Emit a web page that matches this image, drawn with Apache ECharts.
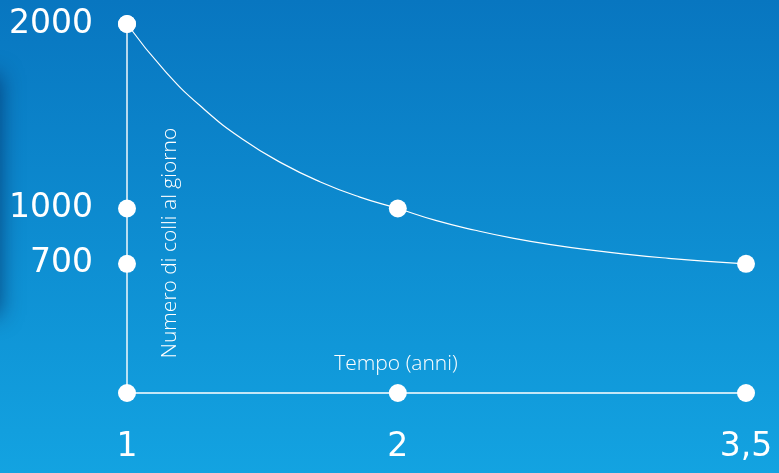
<!DOCTYPE html>
<html>
<head>
<meta charset="utf-8">
<style>
html,body{margin:0;padding:0;width:779px;height:473px;overflow:hidden;background:#0c86cc;}
#c{width:779px;height:473px;}
</style>
<script src="https://cdn.jsdelivr.net/npm/echarts@6/dist/echarts.min.js"></script>
</head>
<body>
<div id="c"></div>
<script>
// Time axis (years): labelled positions on a schematic axis
var categories = ['1','','','','','','','2','','','','','','','','','3,5'];
// Curve "Numero di colli al giorno", read along the axis
var curveValues = [2000,1741,1537,1374,1246,1144,1063,1000,934,882,838,803,774,750,730,713,700];
// Y tick labels
var yTicks = [700, 1000, 2000];
var yName = 'Numero di colli al giorno';
var xName = 'Tempo (anni)';

// Dots: y-axis ticks, x-axis labelled positions, curve at labelled positions
var dots = [];
yTicks.forEach(function(v){ dots.push([0, v]); });
categories.forEach(function(c, i){
  if (c !== '') {
    dots.push([i, 0]);
    dots.push([i, curveValues[i]]);
  }
});

var chart = echarts.init(document.getElementById('c'));
var font = 'DejaVu Sans';
chart.setOption({
  animation: false,
  backgroundColor: {
    type: 'linear', x: 0, y: 0, x2: 0, y2: 1,
    colorStops: [{offset: 0, color: '#0876c0'}, {offset: 1, color: '#13a3e1'}]
  },
  grid: {left: 127, right: 33, top: 24, bottom: 80, outerBoundsMode: 'none', containLabel: false},
  xAxis: {
    type: 'category',
    data: categories,
    boundaryGap: false,
    axisLine: {show: true, lineStyle: {color: '#ffffff', width: 1.5}},
    axisTick: {show: false},
    splitLine: {show: false},
    axisLabel: {
      interval: 0, color: '#ffffff', fontFamily: font, fontSize: 33, margin: 38
    }
  },
  yAxis: {
    type: 'value',
    min: 0, max: 2000,
    axisLine: {show: true, lineStyle: {color: 'rgba(255,255,255,0.7)', width: 2}},
    axisTick: {show: false},
    splitLine: {show: false},
    axisLabel: {
      customValues: yTicks,
      formatter: function(v){ return String(v); },
      color: '#ffffff', fontFamily: font, fontSize: 33, margin: 34,
      padding: [10, 0, 0, 0]
    }
  },
  graphic: [
    {
      type: 'rect', z: -1, silent: true,
      shape: {x: -30, y: 75, width: 30, height: 240},
      style: {fill: 'rgba(0,40,90,0.8)', shadowBlur: 22, shadowColor: 'rgba(0,30,80,0.8)'}
    },
    {
      type: 'text', x: 170, y: 243, rotation: Math.PI / 2,
      style: {text: yName, fill: '#ffffff', font: '300 21px "Open Sans"', textAlign: 'center', textVerticalAlign: 'middle'}
    },
    {
      type: 'text', x: 396, y: 364,
      style: {text: xName, fill: '#ffffff', font: '300 21px "Open Sans"', textAlign: 'center', textVerticalAlign: 'middle'}
    }
  ],
  series: [
    {
      type: 'line',
      data: curveValues,
      smooth: 0.5,
      showSymbol: false,
      clip: false,
      lineStyle: {color: '#ffffff', width: 1.2},
      z: 2
    },
    {
      type: 'scatter',
      data: dots,
      symbol: 'circle',
      symbolSize: 18,
      clip: false,
      itemStyle: {color: '#ffffff', opacity: 1},
      z: 3
    }
  ]
});
</script>
</body>
</html>
